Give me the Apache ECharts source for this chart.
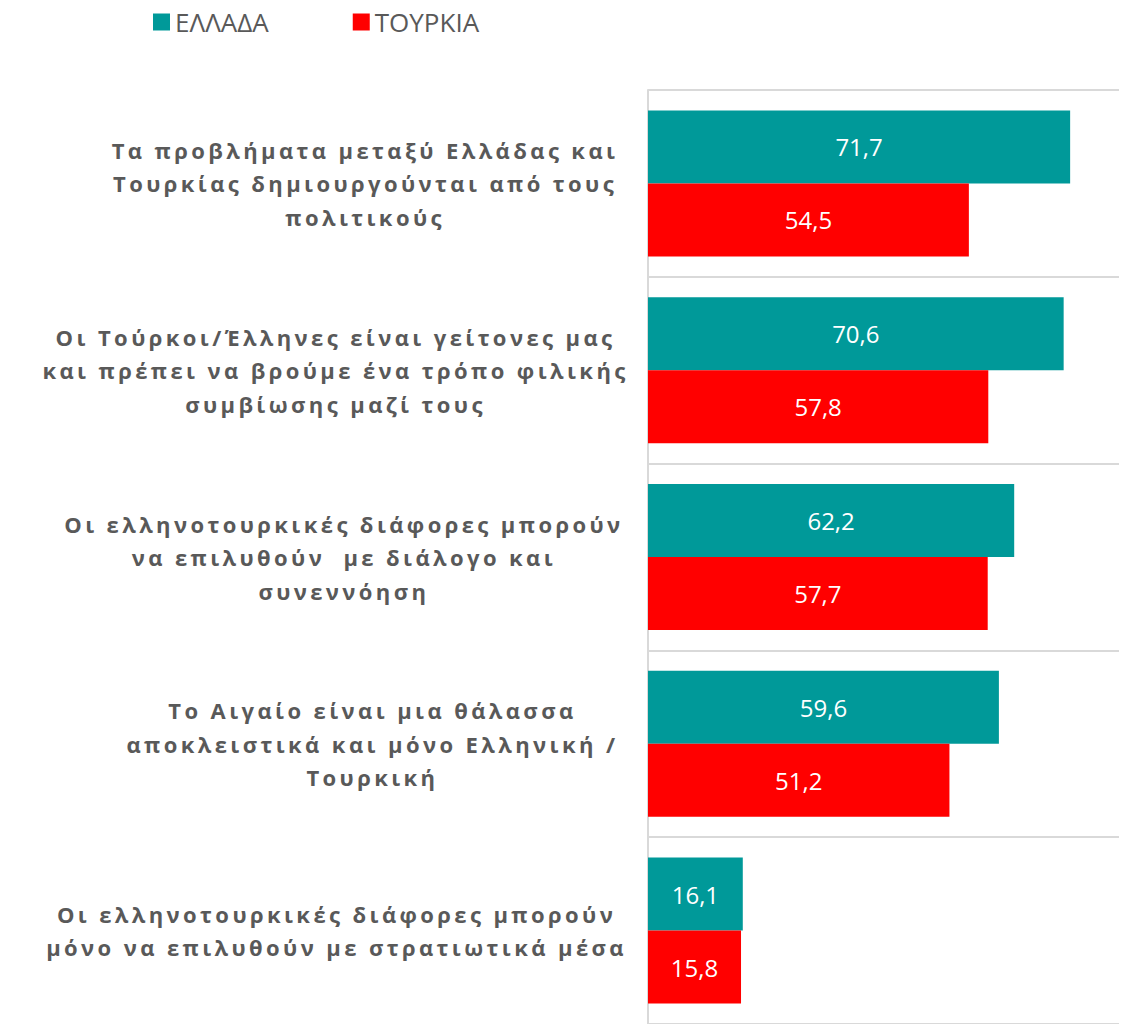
<!DOCTYPE html>
<html>
<head>
<meta charset="utf-8">
<script src="https://cdn.jsdelivr.net/npm/echarts@6/dist/echarts.min.js"></script>
<style>
  body { margin: 0; background: #fff; }
  #container { width: 1128px; height: 1024px; }
  /* the category labels in the original are spaced out */
  #container svg text[style*="bold"], #container svg text[font-weight="bold"] { letter-spacing: 3.4px; }
</style>
</head>
<body>
<div id="container"></div>
<script>
var categories = [
    'Τα προβλήματα μεταξύ Ελλάδας και\nΤουρκίας δημιουργούνται από τους\nπολιτικούς',
    'Οι Τούρκοι/Έλληνες είναι γείτονες μας\nκαι πρέπει να βρούμε ένα τρόπο φιλικής\nσυμβίωσης μαζί τους',
    'Οι ελληνοτουρκικές διάφορες μπορούν\nνα επιλυθούν  με διάλογο και\nσυνεννόηση',
    'Το Αιγαίο είναι μια θάλασσα\nαποκλειστικά και μόνο Ελληνική /\nΤουρκική',
    'Οι ελληνοτουρκικές διάφορες μπορούν\nμόνο να επιλυθούν με στρατιωτικά μέσα'
];
var seriesNames = ['ΕΛΛΑΔΑ', 'ΤΟΥΡΚΙΑ'];
var greece = [71.7, 70.6, 62.2, 59.6, 16.1];
var turkey = [54.5, 57.8, 57.7, 51.2, 15.8];
var colors = ['#009999', '#ff0000'];

document.addEventListener('DOMContentLoaded', function () {
    var dom = document.getElementById('container');
    var myChart = echarts.init(dom, null, { renderer: 'svg' });

    var barLabel = {
        show: true,
        position: 'inside',
        color: '#ffffff',
        fontSize: 24,
        fontFamily: 'Open Sans',
        formatter: function (p) { return p.value.toFixed(1).replace('.', ','); }
    };

    var option = {
        animation: false,
        color: colors,
        legend: {
            left: 148,
            top: 4,
            itemWidth: 17,
            itemHeight: 17,
            itemGap: 84,
            icon: 'rect',
            textStyle: { fontSize: 26, color: '#595959', fontFamily: 'Open Sans' },
            data: seriesNames
        },
        grid: { left: 648, top: 90, width: 471, height: 937.5 },
        xAxis: {
            type: 'value',
            min: 0,
            max: 80,
            show: false
        },
        yAxis: {
            type: 'category',
            inverse: true,
            data: categories,
            axisLine: { lineStyle: { color: '#d9d9d9', width: 2 } },
            axisTick: { show: false },
            splitLine: { show: true, lineStyle: { color: '#d9d9d9', width: 2 } },
            axisLabel: {
                align: 'right',
                margin: 84,
                formatter: function (value) {
                    return value.split('\n').map(function (l) { return '{a|' + l + '}'; }).join('\n');
                },
                rich: {
                    a: {
                        align: 'center',
                        fontSize: 22,
                        fontWeight: 'bold',
                        fontFamily: 'Open Sans',
                        color: '#595959',
                        lineHeight: 33.5
                    }
                }
            }
        },
        series: [
            {
                name: seriesNames[0],
                type: 'bar',
                data: greece,
                barWidth: 73,
                barGap: '0%',
                label: barLabel
            },
            {
                name: seriesNames[1],
                type: 'bar',
                data: turkey,
                barWidth: 73,
                barGap: '0%',
                label: barLabel
            }
        ]
    };

    myChart.setOption(option);
    window.addEventListener('resize', myChart.resize);
});
</script>
</body>
</html>
